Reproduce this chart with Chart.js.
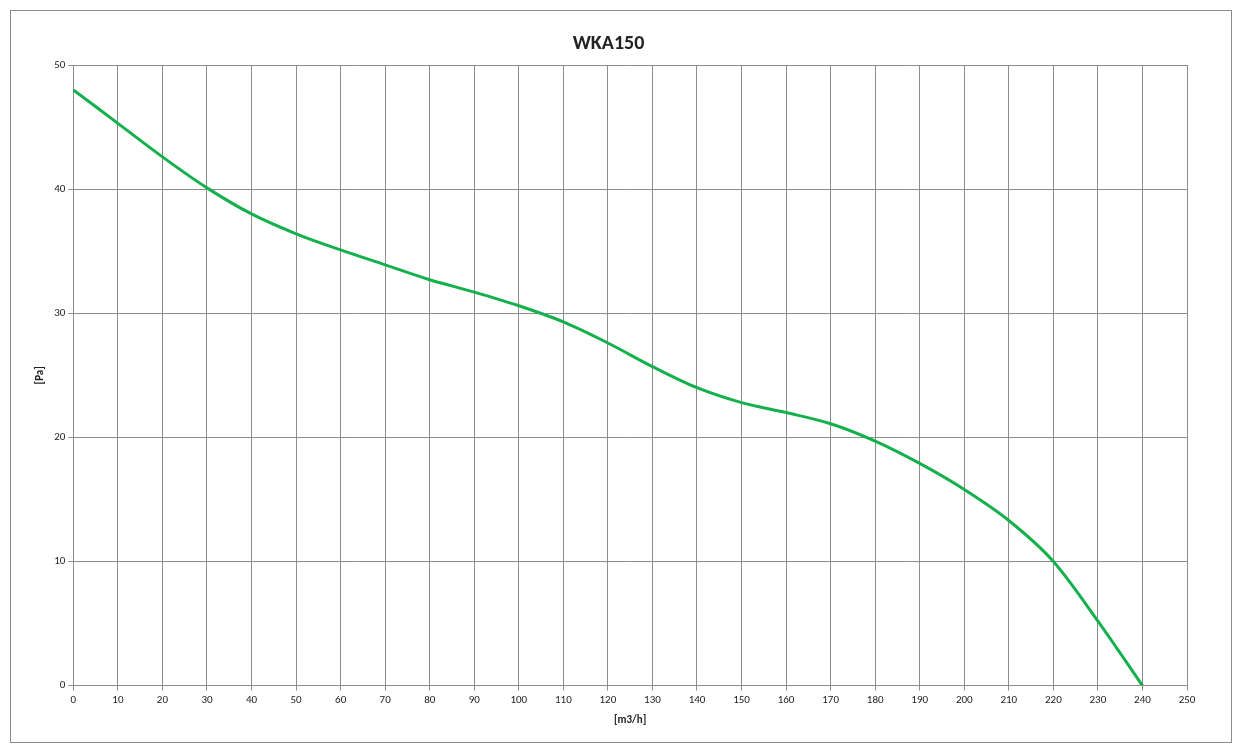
<!DOCTYPE html>
<html lang="en">
<head>
  <meta charset="UTF-8" />
  <title>WKA150</title>
  <script src="https://cdn.jsdelivr.net/npm/chart.js"></script>
  <style>
    body { margin: 0; background: #fff; }
    #frame {
      position: absolute; left: 10px; top: 10px;
      width: 1220px; height: 731px;
      border: 1px solid #8c8c8c;
    }
    canvas { display: block; }
  </style>
</head>
<body>
  <div id="frame"><canvas id="fanChart" width="1220" height="731"></canvas></div>

  <script>
    const flow = [0, 10, 20, 30, 40, 50, 60, 70, 80, 90, 100, 110, 120, 130, 140, 150, 160, 170, 180, 190, 200, 210, 220, 230, 240];
    const pressure = [48, 45.3, 42.6, 40.1, 38.0, 36.4, 35.1, 33.9, 32.7, 31.7, 30.6, 29.3, 27.6, 25.7, 24.0, 22.8, 22.0, 21.1, 19.7, 17.9, 15.8, 13.3, 10.0, 5.2, 0];

    const font = { family: "Calibri, Carlito, 'Liberation Sans', sans-serif", size: 11 };
    const ctx = document.getElementById("fanChart").getContext("2d");
    new Chart(ctx, {
      type: "line",
      data: {
        datasets: [{
          label: "WKA150",
          data: flow.map((x, i) => ({ x: x, y: pressure[i] })),
          borderColor: "#14b04c",
          borderWidth: 3,
          fill: false,
          tension: 0.4,
          cubicInterpolationMode: "monotone",
          pointRadius: 0
        }]
      },
      options: {
        responsive: false,
        animation: false,
        layout: { padding: { left: 19, right: 44, top: 4, bottom: 11 } },
        plugins: {
          legend: { display: false },
          title: {
            display: true, text: "WKA150", color: "#222",
            font: { family: font.family, size: 20, weight: "bold" },
            padding: { top: 17, bottom: 9 }
          }
        },
        scales: {
          x: {
            type: "linear", min: 0, max: 250,
            ticks: { stepSize: 10, color: "#222", font: font, maxRotation: 0 },
            grid: { color: "#8c8c8c", tickLength: 5 },
            border: { color: "#8c8c8c" },
            title: { display: true, text: "[m3/h]", color: "#222", font: { family: font.family, size: 11, weight: "bold" } }
          },
          y: {
            min: 0, max: 50,
            ticks: { stepSize: 10, color: "#222", font: font },
            grid: { color: "#8c8c8c", tickLength: 5 },
            border: { color: "#8c8c8c" },
            title: { display: true, text: "[Pa]", color: "#222", font: { family: font.family, size: 11, weight: "bold" } }
          }
        }
      }
    });
  </script>
</body>
</html>
